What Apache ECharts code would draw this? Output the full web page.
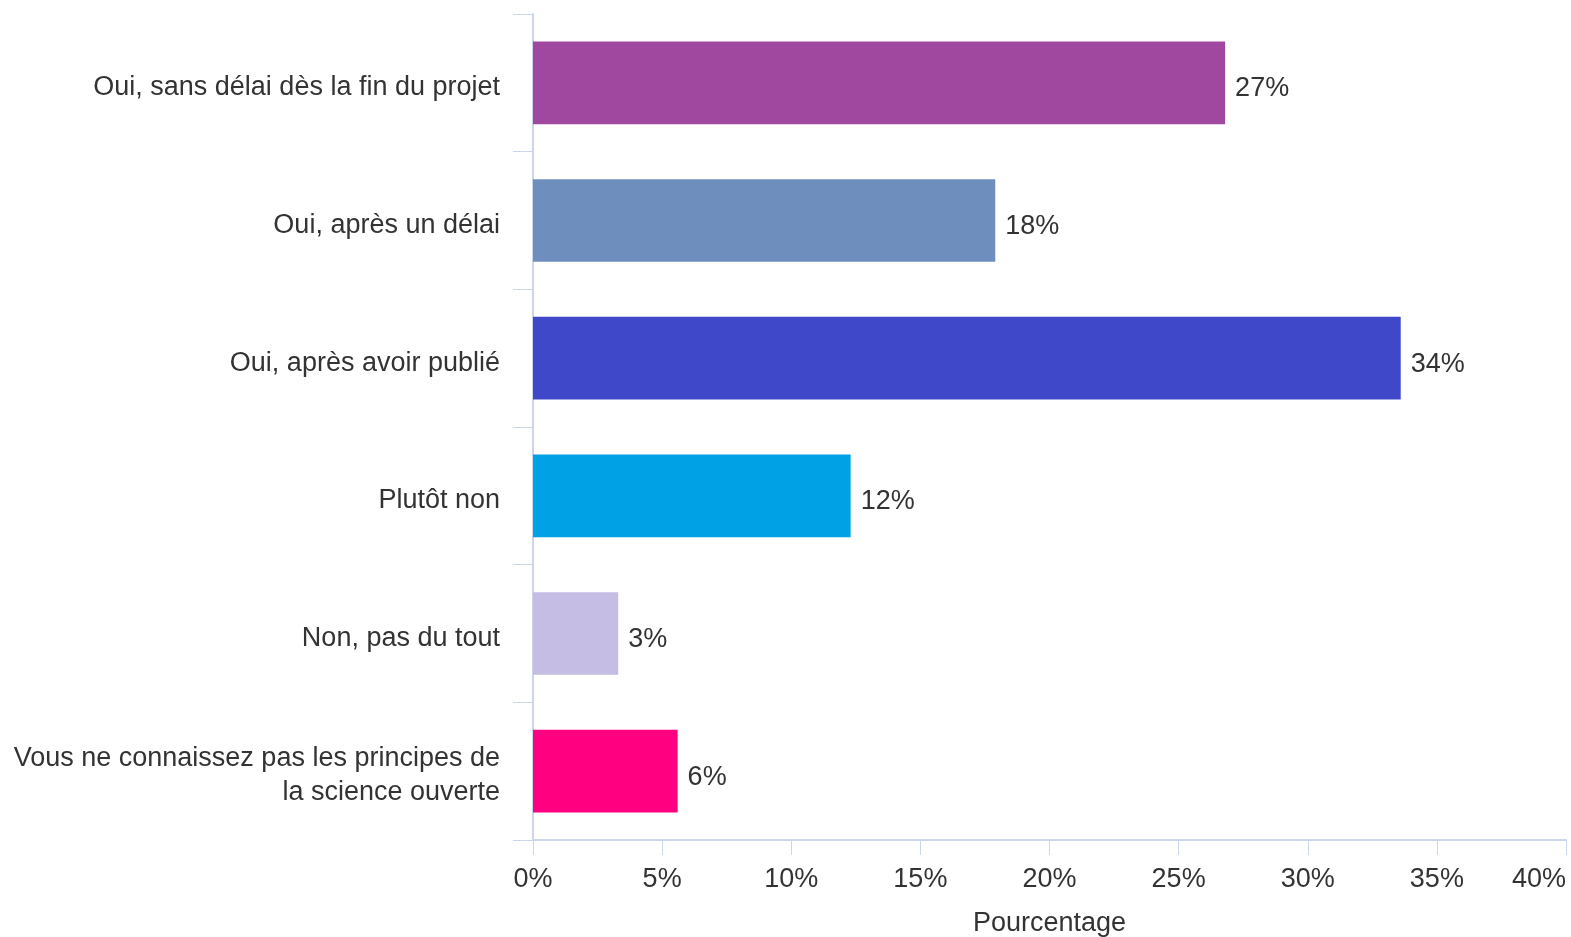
<!DOCTYPE html>
<html>
<head>
<meta charset="utf-8">
<script src="https://cdn.jsdelivr.net/npm/echarts@6/dist/echarts.min.js"></script>
<style>html,body{margin:0;padding:0;background:#fff}#c{width:1571px;height:937px}</style>
</head>
<body>
<div id="c"></div>
<script>
const categories = [
  "Oui, sans délai dès la fin du projet",
  "Oui, après un délai",
  "Oui, après avoir publié",
  "Plutôt non",
  "Non, pas du tout",
  "Vous ne connaissez pas les principes de\nla science ouverte"
];
const values = [26.8, 17.9, 33.6, 12.3, 3.3, 5.6];
const colors = ["#A0479F", "#6E8FBE", "#3F48C8", "#00A2E6", "#C5BDE4", "#FF0080"];
const xTicks = [0, 5, 10, 15, 20, 25, 30, 35, 40];

const font = "'Liberation Sans', Arial, sans-serif";
const chart = echarts.init(document.getElementById('c'));
chart.setOption({
  animation: false,
  grid: { left: 533, right: 5, top: 14, bottom: 97, containLabel: false, outerBoundsMode: 'none' },
  xAxis: {
    type: 'value', min: xTicks[0], max: xTicks[xTicks.length - 1], interval: 5,
    name: 'Pourcentage', nameLocation: 'middle', nameGap: 70,
    nameTextStyle: { fontFamily: font, fontSize: 27, color: '#333' },
    axisLine: { show: true, lineStyle: { color: '#ccd6eb', width: 2 } },
    axisTick: { show: true, length: 15, lineStyle: { color: '#ccd6eb', width: 1 } },
    splitLine: { show: false },
    axisLabel: { formatter: v => v + '%', fontFamily: font, fontSize: 27, color: '#333', margin: 26, alignMaxLabel: 'right' }
  },
  yAxis: {
    type: 'category', data: categories, inverse: true,
    axisLine: { show: true, lineStyle: { color: '#ccd6eb', width: 2 } },
    axisTick: { show: true, length: 20, lineStyle: { color: '#ccd6eb', width: 1 } },
    axisLabel: {
      margin: 33, align: 'right',
      formatter: v => v.split('\n').map((l, i) => (i === 0 ? '{f|' : '{n|') + l + '}').join('\n'),
      rich: {
        f: { fontFamily: font, fontSize: 27, color: '#333', lineHeight: 35, padding: [10, 0, 0, 0], align: 'right' },
        n: { fontFamily: font, fontSize: 27, color: '#333', lineHeight: 35, padding: [8, 0, 0, 0], align: 'right' }
      }
    }
  },
  series: [{
    type: 'bar',
    barCategoryGap: '40%',
    data: values.map((v, i) => ({ value: v, itemStyle: { color: colors[i] } })),
    label: {
      show: true, position: 'right', distance: 10, offset: [0, 6],
      formatter: p => Math.round(p.value) + '%',
      fontFamily: font, fontSize: 27, color: '#333'
    }
  }]
});
</script>
</body>
</html>
